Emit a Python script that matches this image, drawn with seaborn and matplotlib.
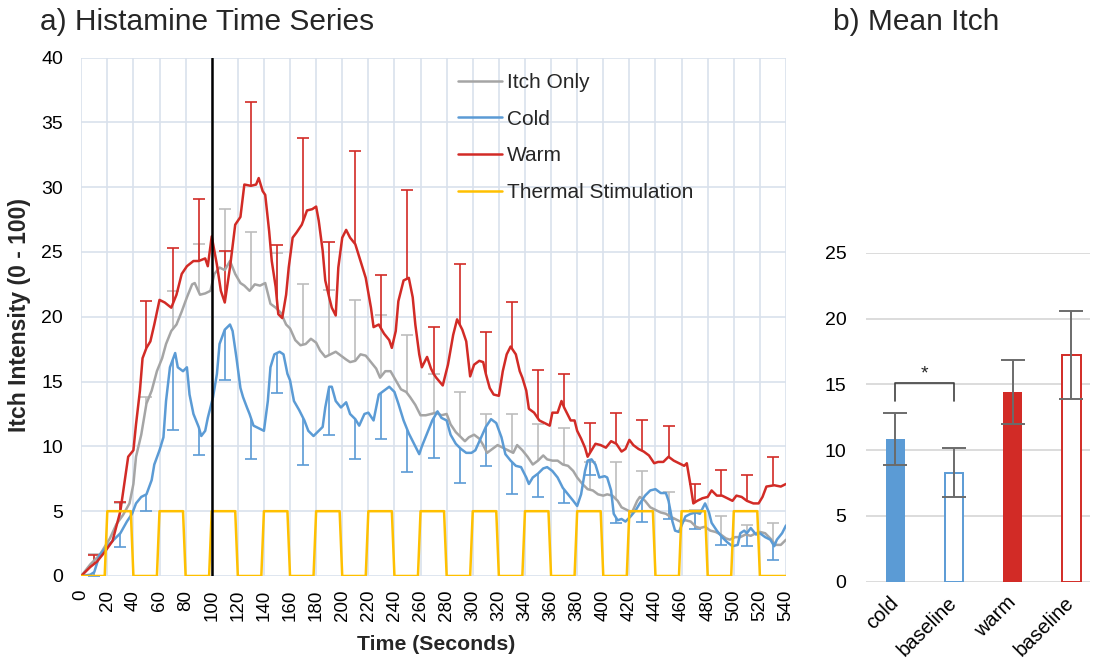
import numpy as np
import pandas as pd
import seaborn as sns
import matplotlib
matplotlib.use("Agg")
import matplotlib.pyplot as plt
from matplotlib.lines import Line2D

# ---- a) time series data (read off the chart) ----
red_t = [0, 7, 12, 18, 24, 30, 33, 36, 40, 42, 45, 47, 50, 53, 56, 60, 64, 69, 73, 77, 81, 86, 90, 95, 97,
         100, 104, 107, 110, 114, 118, 122, 125, 130, 134, 136, 139, 141, 144, 146, 149, 151, 154, 157, 159,
         162, 165, 169, 173, 177, 180, 182, 185, 187, 190, 192, 195, 197, 200, 203, 206, 210, 214, 218, 222,
         224, 228, 232, 236, 238, 241, 243, 247, 251, 254, 256, 259, 261, 265, 268, 270, 272, 277, 281, 285,
         288, 292, 295, 298, 301, 305, 308, 310, 313, 316, 320, 323, 326, 329, 333, 336, 338, 341, 343, 347,
         351, 355, 359, 361, 365, 368, 370, 373, 375, 378, 380, 383, 386, 388, 391, 394, 398, 402, 406, 410,
         414, 417, 420, 423, 427, 431, 435, 439, 442, 446, 450, 454, 458, 462, 464, 467, 469, 472, 476, 480,
         483, 487, 491, 495, 499, 502, 506, 510, 515, 519, 522, 525, 531, 536, 540]
red_y = [0, 0.7, 1.1, 1.85, 2.7, 5.0, 7.1, 9.2, 9.7, 11.7, 14.3, 16.8, 17.6, 18.1, 19.4, 21.3, 21.1, 20.7, 21.7,
         23.3, 23.9, 24.3, 24.3, 24.5, 23.9, 26.2, 24.0, 22.0, 21.1, 23.8, 27.1, 27.7, 30.2, 30.1, 30.2, 30.7,
         29.7, 29.4, 26.6, 24.3, 22.3, 20.2, 19.9, 21.7, 23.8, 26.1, 26.5, 27.1, 28.2, 28.3, 28.5, 27.4, 25.1,
         22.8, 21.5, 20.7, 20.1, 23.8, 26.1, 26.7, 26.1, 25.6, 24.3, 23.0, 20.7, 19.2, 19.4, 18.7, 18.2, 17.6,
         18.9, 21.2, 22.8, 23.0, 21.5, 19.4, 17.1, 16.1, 16.9, 16.0, 15.6, 15.3, 14.7, 16.3, 18.6, 19.8, 19.0,
         18.1, 15.4, 16.3, 16.6, 16.5, 15.6, 14.5, 14.0, 13.9, 15.8, 17.1, 17.7, 17.1, 15.8, 15.3, 14.3, 12.9,
         12.6, 12.0, 11.8, 11.6, 12.6, 12.6, 13.5, 13.0, 12.4, 12.0, 12.0, 11.2, 10.6, 9.9, 9.2, 9.7, 10.2,
         10.1, 9.9, 10.4, 10.2, 9.6, 9.8, 10.5, 10.1, 9.8, 9.6, 9.3, 8.7, 8.8, 8.8, 9.2, 8.9, 8.7, 8.5, 8.7,
         6.9, 5.6, 5.8, 6.0, 6.1, 6.6, 6.2, 6.2, 6.0, 5.8, 6.2, 6.1, 5.8, 5.6, 5.6, 6.1, 6.9, 7.0, 6.9, 7.1]

gray_t = [0, 7, 14, 22, 27, 32, 37, 40, 42, 46, 50, 54, 58, 62, 65, 69, 73, 77, 81, 85, 87, 91, 95, 99, 102,
          106, 110, 114, 118, 122, 125, 129, 133, 137, 141, 145, 149, 153, 157, 160, 164, 168, 172, 176, 180,
          183, 187, 191, 195, 199, 203, 206, 210, 214, 218, 222, 226, 229, 233, 237, 241, 245, 249, 252, 256,
          260, 264, 268, 272, 276, 280, 283, 287, 291, 294, 297, 301, 305, 308, 311, 315, 319, 323, 327, 331,
          334, 338, 342, 346, 350, 354, 357, 361, 365, 369, 373, 377, 380, 384, 388, 392, 396, 400, 403, 407,
          411, 414, 418, 422, 426, 428, 432, 436, 440, 444, 448, 451, 455, 459, 463, 467, 471, 474, 478, 482,
          486, 490, 494, 497, 501, 505, 509, 513, 517, 520, 524, 528, 532, 536, 540]
gray_y = [0, 0.9, 1.6, 2.9, 4.0, 4.7, 5.6, 7.1, 9.2, 10.9, 13.3, 14.3, 15.8, 16.8, 17.9, 18.9, 19.4, 20.4, 21.5,
          22.5, 22.6, 21.7, 21.8, 22.0, 23.3, 23.8, 23.6, 24.3, 23.3, 22.6, 22.4, 22.0, 22.5, 22.4, 22.6, 21.0,
          20.7, 20.3, 19.4, 19.1, 18.2, 17.8, 17.9, 18.3, 18.0, 17.4, 16.9, 17.1, 17.3, 17.0, 16.7, 16.5, 16.6,
          17.1, 17.0, 16.5, 16.0, 15.3, 15.8, 15.8, 15.1, 14.4, 14.2, 13.8, 13.2, 12.4, 12.4, 12.5, 12.6, 12.4,
          12.5, 11.7, 11.1, 10.7, 10.4, 10.7, 10.9, 10.6, 10.1, 9.5, 9.8, 10.1, 9.9, 9.7, 9.5, 10.1, 9.7, 9.2,
          8.6, 8.9, 9.3, 9.0, 8.9, 8.9, 8.6, 8.5, 8.1, 7.6, 7.1, 6.7, 6.6, 6.3, 6.2, 6.3, 6.2, 5.8, 5.3, 5.1,
          4.9, 5.8, 6.1, 5.8, 5.3, 5.1, 4.9, 4.8, 4.6, 4.4, 4.2, 4.3, 4.2, 3.8, 3.7, 3.8, 3.5, 3.4, 3.2, 2.9,
          2.8, 3.0, 3.0, 3.2, 3.1, 3.3, 3.4, 3.3, 2.9, 2.4, 2.4, 2.8]

blue_t = [0, 7, 10, 14, 19, 24, 30, 35, 39, 42, 46, 50, 54, 56, 60, 63, 65, 68, 72, 74, 78, 81, 83, 86, 90, 92,
          95, 97, 101, 104, 106, 110, 114, 116, 119, 122, 124, 127, 129, 132, 136, 140, 143, 145, 148, 152, 155,
          158, 160, 163, 167, 171, 174, 178, 182, 185, 187, 190, 192, 195, 199, 203, 206, 210, 213, 217, 220,
          224, 228, 232, 236, 240, 243, 247, 251, 255, 259, 261, 265, 269, 273, 276, 280, 283, 287, 291, 295,
          299, 302, 306, 310, 314, 318, 322, 325, 329, 333, 337, 341, 343, 346, 350, 354, 357, 361, 365, 369,
          373, 377, 380, 383, 386, 388, 391, 394, 397, 401, 403, 406, 408, 411, 414, 417, 421, 425, 428, 432,
          436, 440, 444, 448, 450, 453, 455, 458, 460, 463, 467, 471, 474, 478, 481, 483, 487, 491, 495, 499,
          503, 505, 508, 510, 513, 517, 520, 524, 528, 531, 533, 537, 540]
blue_y = [0, 0.1, 0.3, 1.6, 2.2, 2.7, 3.3, 4.2, 4.8, 5.6, 6.1, 6.3, 7.4, 8.6, 9.7, 10.7, 13.5, 16.1, 17.2, 16.1,
          15.8, 16.1, 14.0, 12.5, 11.5, 10.8, 11.2, 12.2, 13.8, 15.6, 17.9, 19.0, 19.4, 18.9, 16.8, 14.5, 13.8,
          13.0, 12.5, 11.6, 11.4, 11.2, 13.5, 16.1, 17.1, 17.3, 17.1, 15.6, 15.1, 13.5, 12.8, 12.0, 11.2, 10.8,
          11.2, 11.5, 13.0, 14.6, 14.6, 13.5, 13.0, 13.4, 12.5, 12.1, 11.6, 12.5, 12.6, 12.0, 14.0, 14.3, 14.6,
          14.2, 13.3, 12.0, 11.0, 10.2, 9.4, 10.0, 11.0, 12.0, 12.7, 12.2, 12.0, 10.9, 10.2, 9.8, 9.5, 9.5, 9.7,
          10.6, 11.5, 12.1, 11.8, 10.7, 9.4, 8.9, 8.5, 8.4, 7.6, 7.1, 7.6, 7.9, 8.3, 8.4, 8.1, 7.6, 6.8, 6.3,
          5.8, 5.4, 6.3, 8.1, 8.9, 9.0, 8.6, 7.6, 7.7, 7.6, 6.6, 4.8, 4.3, 4.4, 4.2, 4.6, 5.1, 5.6, 6.2, 6.6,
          6.7, 6.4, 6.4, 5.8, 4.2, 3.5, 3.4, 3.9, 4.6, 4.8, 4.9, 4.8, 5.6, 4.9, 4.1, 3.5, 3.0, 2.6, 2.3, 2.4,
          3.3, 3.5, 3.3, 3.7, 3.2, 3.3, 3.0, 2.8, 2.3, 2.8, 3.3, 3.9]

# error bars every 20 s (end of bar: upper for red/gray, lower for blue)
err_t = [10, 30, 50, 70, 90, 110, 130, 150, 170, 190, 210, 230, 250, 270, 290, 310, 330, 350, 370, 390,
         410, 430, 450, 470, 490, 510, 530]
red_cap = [1.6, 5.7, 21.2, 25.3, 29.1, 25.05, 36.6, 25.5, 33.8, 25.8, 32.8, 23.2, 29.8, 19.2, 24.1, 18.8,
           21.1, 15.9, 15.6, 11.8, 12.6, 12.0, 11.6, 7.1, 8.2, 7.8, 9.2]
gray_cap = [1.7, 5.6, 13.8, 22.0, 25.6, 28.3, 26.5, 24.9, 22.5, 22.1, 21.3, 20.1, 18.6, 15.6, 14.2, 12.5,
            12.5, 11.7, 11.4, 8.8, 8.8, 8.1, 6.5, 5.1, 4.6, 3.9, 4.1]
blue_cap = [0.0, 2.2, 5.0, 11.3, 9.3, 15.1, 9.0, 14.1, 8.6, 10.9, 9.0, 10.6, 8.0, 9.1, 7.2, 8.5, 6.3, 6.1,
            5.6, 7.8, 4.1, 4.2, 4.4, 3.6, 2.4, 2.3, 1.2]

# thermal stimulation pulses (time reached 5, time it starts dropping)
stim_on = [20, 60, 100, 140, 180, 220, 260, 300, 340, 380, 420, 460, 500]
stim_off = [38, 78, 118, 158, 198, 238, 278, 318, 358, 398, 438, 478, 518]
stim_level = 5

x_ticks = list(range(0, 541, 20))

# ---- b) mean itch ----
bar_keys = ["cold", "baseline_c", "warm", "baseline_w"]
bar_labels = ["cold", "baseline", "warm", "baseline"]
bar_means = [10.85, 8.28, 14.4, 17.25]
bar_sem = [2.0, 1.85, 2.45, 3.35]

GRAY = "#A5A5A5"
BLUE = "#5B9BD5"
RED = "#D22B26"
YELLOW = "#FFC000"
GRID = "#D9E1EC"

sns.set_style("white")
plt.rcParams["font.family"] = ["Liberation Sans", "DejaVu Sans"]

fig = plt.figure(figsize=(10.94, 6.65), dpi=100)

# ---------------- a) ----------------
ax = fig.add_axes([81.2 / 1094, 89 / 665, 704.8 / 1094, 518.5 / 665])

st_x, st_y = [0], [0]
for on, off in zip(stim_on, stim_off):
    st_x += [on - 2, on, off, off + 2]
    st_y += [0, stim_level, stim_level, 0]
st_x.append(540)
st_y.append(0)

series = [("Itch Only", gray_t, gray_y, GRAY, "#BDBDBD", gray_cap),
          ("Cold", blue_t, blue_y, BLUE, BLUE, blue_cap),
          ("Warm", red_t, red_y, RED, RED, red_cap)]

# one-sided error bars: stem from the line to the cap, cap only at the far end
for name, t, y, col, ecol, cap in series:
    base = np.interp(err_t, t, y)
    ax.vlines(err_t, base, cap, colors=ecol, lw=1.2, zorder=2)
    ax.plot(err_t, cap, ls="none", marker="_", ms=8.6, mew=1.2, color=ecol, zorder=2)

for name, t, y, col, ecol, cap in series:
    df = pd.DataFrame({"t": t, "v": y})
    sns.lineplot(data=df, x="t", y="v", ax=ax, color=col, lw=1.8, zorder=3)

sns.lineplot(x=st_x, y=st_y, ax=ax, color=YELLOW, lw=1.8, sort=False, estimator=None, zorder=4)
ax.plot([100, 100], [0, 40], color="black", lw=1.8, zorder=5)

ax.set_xlim(0, 540)
ax.set_ylim(0, 40)
ax.set_xticks(x_ticks)
ax.set_xticklabels([str(v) for v in x_ticks], rotation=90)
ax.set_yticks(range(0, 41, 5))
ax.grid(True, color=GRID, lw=1.2)
ax.set_axisbelow(True)
for s in ax.spines.values():
    s.set_visible(False)
ax.tick_params(axis="both", length=0, colors="black")
ax.tick_params(axis="y", pad=13, labelsize=14)
ax.tick_params(axis="x", pad=10, labelsize=13.5)
ax.set_xlabel("")
ax.set_ylabel("")

handles = [Line2D([], [], color=GRAY, lw=1.8), Line2D([], [], color=BLUE, lw=1.8),
           Line2D([], [], color=RED, lw=1.8), Line2D([], [], color=YELLOW, lw=1.8)]
fig.legend(handles, ["Itch Only", "Cold", "Warm", "Thermal Stimulation"], loc="upper left",
           bbox_to_anchor=(458 / 1094, 1 - 73 / 665), frameon=False, fontsize=15,
           handlelength=2.1, handletextpad=0.25, labelspacing=0.85, borderpad=0, borderaxespad=0)

fig.text(40 / 1094, 1 - 22 / 665, "a) Histamine Time Series", fontsize=21.5, va="center", ha="left")
fig.text(20 / 1094, 1 - 315 / 665, "Itch Intensity (0 - 100)", fontsize=16.5, fontweight="bold",
         rotation=90, va="center", ha="center")
fig.text(436 / 1094, 1 - 645 / 665, "Time (Seconds)", fontsize=15.3, fontweight="bold",
         va="center", ha="center")

# ---------------- b) ----------------
bx = fig.add_axes([866 / 1094, 83.3 / 665, 224 / 1094, 329 / 665])
bar_df = pd.DataFrame({"cond": bar_keys, "mean": bar_means})
sns.barplot(data=bar_df, x="cond", y="mean", ax=bx, order=bar_keys,
            palette=[BLUE, "white", RED, "white"], hue="cond", legend=False,
            width=0.32, saturation=1, zorder=2)
edge_cols = [BLUE, BLUE, RED, RED]
for patch, ec, k in zip(bx.patches, edge_cols, bar_keys):
    if k.startswith("baseline"):
        patch.set_edgecolor(ec)
        patch.set_linewidth(1.4)
    else:
        patch.set_linewidth(0)
bx.errorbar(range(len(bar_keys)), bar_means, yerr=bar_sem, fmt="none", ecolor="#6B6B6B",
            elinewidth=1.4, capsize=8.5, capthick=1.4, zorder=3)

# significance bracket cold vs baseline
bx.plot([0, 0, 1, 1], [13.7, 15.1, 15.1, 13.7], color="#404040", lw=1.2, zorder=3)
bx.text(0.5, 15.15, "*", ha="center", va="bottom", fontsize=14)

bx.set_xlim(-0.5, 3.32)
bx.set_ylim(0, 25)
bx.set_yticks(range(0, 26, 5))
bx.yaxis.grid(True, color="#D9D9D9", lw=1.3)
bx.xaxis.grid(False)
bx.set_axisbelow(True)
for s in bx.spines.values():
    s.set_visible(False)
bx.set_xticks(range(len(bar_keys)))
bx.set_xticklabels(bar_labels, rotation=45, ha="right", va="center", rotation_mode="anchor")
bx.tick_params(axis="both", length=0, colors="black")
bx.tick_params(axis="y", pad=14, labelsize=14)
bx.tick_params(axis="x", pad=13, labelsize=14.5)
bx.set_xlabel("")
bx.set_ylabel("")

fig.text(833 / 1094, 1 - 22 / 665, "b) Mean Itch", fontsize=21.5, va="center", ha="left")

fig.savefig("out.png", dpi=100)
